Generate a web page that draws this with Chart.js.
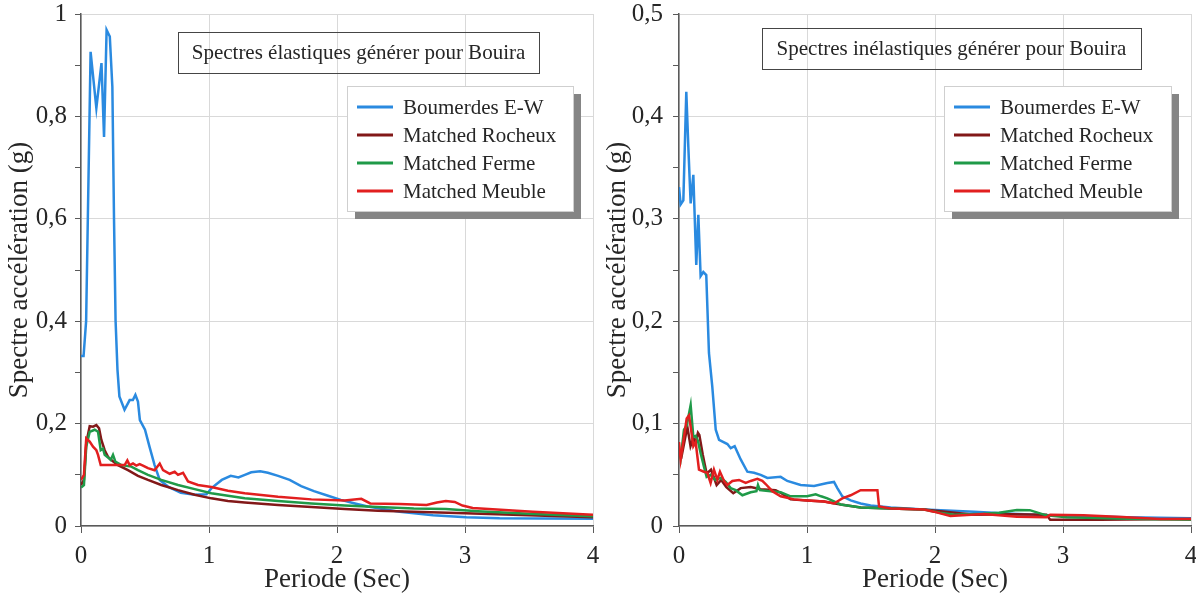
<!DOCTYPE html>
<html>
<head>
<meta charset="utf-8">
<title>Spectres Bouira</title>
<script src="https://cdn.jsdelivr.net/npm/chart.js@4.4.1/dist/chart.umd.min.js"></script>
<style>
  html, body { margin: 0; padding: 0; background: #fff; }
  #wrap { position: relative; width: 1196px; height: 603px; overflow: hidden; }
  .panel { position: absolute; top: 0; height: 603px; }
  #panelLeft { left: 0; width: 604px; }
  #panelRight { left: 598px; width: 598px; }
</style>
</head>
<body>
<div id="wrap">
  <div class="panel" id="panelLeft"><canvas id="elasCanvas" width="604" height="603"></canvas></div>
  <div class="panel" id="panelRight"><canvas id="inelasCanvas" width="598" height="603"></canvas></div>
</div>
<script>
'use strict';

// Series shared by both panels
var seriesNames = ['Boumerdes E-W', 'Matched Rocheux', 'Matched Ferme', 'Matched Meuble'];
var seriesColors = ['#2a8ae0', '#821818', '#1f9a48', '#e21f1f'];

// ---- Elastic spectra: period (s) / Sa (g) ----
var elasBoumT = [0, 0.02, 0.04, 0.075, 0.12, 0.16, 0.18, 0.20, 0.225, 0.245,
  0.258, 0.27, 0.285, 0.30, 0.34, 0.38, 0.405, 0.425, 0.445, 0.46,
  0.50, 0.535, 0.575, 0.615, 0.68, 0.78, 0.89, 0.98, 1.02, 1.10,
  1.17, 1.23, 1.28, 1.33, 1.40, 1.46, 1.54, 1.63, 1.72, 1.82,
  1.93, 2.03, 2.14, 2.24, 2.49, 2.75, 3.01, 3.27, 3.6, 4.0];
var elasBoumSa = [0.332, 0.332, 0.40, 0.926, 0.816, 0.904, 0.760, 0.969, 0.956, 0.858,
  0.598, 0.402, 0.305, 0.253, 0.227, 0.246, 0.246, 0.256, 0.243, 0.207,
  0.188, 0.155, 0.119, 0.090, 0.077, 0.065, 0.061, 0.062, 0.074, 0.090,
  0.098, 0.095, 0.100, 0.105, 0.107, 0.104, 0.098, 0.090, 0.078, 0.068,
  0.059, 0.051, 0.044, 0.038, 0.028, 0.021, 0.017, 0.015, 0.0145, 0.014];

var elasRochT = [0, 0.023, 0.041, 0.068, 0.094, 0.12, 0.141, 0.159, 0.185, 0.211,
  0.237, 0.289, 0.367, 0.445, 0.523, 0.627, 0.758, 0.888, 1.018, 1.148,
  1.279, 1.539, 1.80, 2.06, 2.32, 2.6, 3.0, 3.5, 4.0];
var elasRochSa = [0.080, 0.090, 0.162, 0.195, 0.194, 0.197, 0.191, 0.168, 0.148, 0.135,
  0.129, 0.119, 0.109, 0.098, 0.090, 0.080, 0.070, 0.061, 0.054, 0.049,
  0.046, 0.041, 0.037, 0.033, 0.030, 0.028, 0.025, 0.021, 0.017];

var elasFermT = [0, 0.023, 0.041, 0.068, 0.107, 0.133, 0.154, 0.172, 0.185, 0.211,
  0.232, 0.25, 0.268, 0.315, 0.393, 0.445, 0.523, 0.627, 0.758, 0.888,
  1.018, 1.148, 1.279, 1.539, 1.80, 2.06, 2.32, 2.6, 2.85, 3.1,
  3.5, 4.0];
var elasFermSa = [0.075, 0.080, 0.155, 0.184, 0.188, 0.184, 0.148, 0.151, 0.139, 0.134,
  0.129, 0.139, 0.126, 0.119, 0.116, 0.109, 0.100, 0.090, 0.080, 0.072,
  0.064, 0.059, 0.054, 0.049, 0.044, 0.040, 0.037, 0.034, 0.033, 0.029,
  0.024, 0.019];

var elasMeubT = [0, 0.023, 0.041, 0.068, 0.094, 0.12, 0.133, 0.154, 0.185, 0.263,
  0.341, 0.362, 0.38, 0.406, 0.432, 0.458, 0.484, 0.523, 0.575, 0.615,
  0.641, 0.693, 0.732, 0.758, 0.797, 0.836, 0.914, 1.018, 1.148, 1.279,
  1.539, 1.80, 2.06, 2.19, 2.26, 2.49, 2.70, 2.78, 2.85, 2.92,
  2.98, 3.06, 3.53, 4.0];
var elasMeubSa = [0.090, 0.100, 0.171, 0.165, 0.155, 0.148, 0.139, 0.119, 0.119, 0.119,
  0.119, 0.128, 0.119, 0.122, 0.118, 0.121, 0.118, 0.113, 0.109, 0.122,
  0.109, 0.102, 0.106, 0.100, 0.104, 0.087, 0.080, 0.076, 0.069, 0.064,
  0.057, 0.052, 0.050, 0.053, 0.044, 0.043, 0.041, 0.046, 0.049, 0.047,
  0.040, 0.035, 0.028, 0.022];

// ---- Inelastic spectra: period (s) / Sa (g) ----
var inelBoumT = [0, 0.013, 0.034, 0.057, 0.073, 0.091, 0.112, 0.12, 0.135, 0.151,
  0.169, 0.19, 0.213, 0.234, 0.26, 0.287, 0.313, 0.378, 0.404, 0.435,
  0.482, 0.534, 0.586, 0.638, 0.69, 0.794, 0.846, 0.95, 1.055, 1.159,
  1.211, 1.237, 1.276, 1.341, 1.419, 1.497, 1.654, 1.914, 2.305, 2.6,
  3.0, 3.5, 4.0];
var inelBoumSa = [0.331, 0.314, 0.318, 0.424, 0.370, 0.315, 0.343, 0.312, 0.255, 0.304,
  0.244, 0.248, 0.245, 0.169, 0.136, 0.094, 0.084, 0.080, 0.076, 0.078,
  0.065, 0.053, 0.052, 0.050, 0.047, 0.048, 0.044, 0.040, 0.039, 0.042,
  0.043, 0.037, 0.029, 0.025, 0.022, 0.020, 0.018, 0.016, 0.014, 0.012,
  0.010, 0.0085, 0.0075];

var inelRochT = [0, 0.02, 0.065, 0.09, 0.112, 0.13, 0.148, 0.159, 0.185, 0.216,
  0.25, 0.294, 0.33, 0.37, 0.424, 0.482, 0.56, 0.64, 0.755, 0.80,
  0.872, 1.0, 1.133, 1.263, 1.419, 1.654, 1.914, 2.305, 2.6, 2.87,
  2.9, 3.29, 3.7, 4.0];
var inelRochSa = [0.071, 0.068, 0.097, 0.078, 0.086, 0.082, 0.091, 0.089, 0.070, 0.051,
  0.055, 0.040, 0.045, 0.038, 0.032, 0.037, 0.038, 0.036, 0.035, 0.032,
  0.026, 0.025, 0.024, 0.021, 0.018, 0.017, 0.016, 0.011, 0.0115, 0.011,
  0.006, 0.006, 0.0065, 0.0068];

var inelFermT = [0, 0.013, 0.039, 0.06, 0.091, 0.112, 0.13, 0.148, 0.169, 0.195,
  0.216, 0.245, 0.286, 0.326, 0.365, 0.404, 0.443, 0.495, 0.56, 0.605,
  0.617, 0.632, 0.716, 0.794, 0.872, 0.95, 1.0, 1.068, 1.11, 1.159,
  1.263, 1.419, 1.654, 1.914, 2.04, 2.15, 2.38, 2.5, 2.64, 2.74,
  2.87, 3.03, 3.5, 4.0];
var inelFermSa = [0.072, 0.066, 0.094, 0.098, 0.118, 0.087, 0.088, 0.083, 0.071, 0.058,
  0.048, 0.050, 0.045, 0.047, 0.043, 0.037, 0.035, 0.030, 0.033, 0.034,
  0.040, 0.035, 0.034, 0.033, 0.029, 0.029, 0.029, 0.031, 0.029, 0.027,
  0.021, 0.018, 0.017, 0.016, 0.013, 0.011, 0.012, 0.013, 0.0156, 0.0155,
  0.0104, 0.0085, 0.007, 0.006];

var inelMeubT = [0, 0.013, 0.039, 0.06, 0.078, 0.091, 0.112, 0.13, 0.156, 0.195,
  0.221, 0.247, 0.273, 0.30, 0.32, 0.352, 0.378, 0.417, 0.469, 0.521,
  0.56, 0.612, 0.651, 0.677, 0.729, 0.794, 0.898, 1.003, 1.133, 1.211,
  1.276, 1.341, 1.419, 1.55, 1.563, 1.654, 1.914, 1.99, 2.12, 2.38,
  2.64, 2.87, 2.9, 3.16, 3.42, 3.76, 4.0];
var inelMeubSa = [0.082, 0.065, 0.087, 0.105, 0.108, 0.097, 0.078, 0.082, 0.055, 0.053,
  0.052, 0.042, 0.055, 0.045, 0.053, 0.044, 0.040, 0.044, 0.045, 0.042,
  0.044, 0.046, 0.044, 0.041, 0.034, 0.029, 0.026, 0.025, 0.024, 0.022,
  0.027, 0.030, 0.035, 0.035, 0.019, 0.017, 0.016, 0.014, 0.0098, 0.0117,
  0.009, 0.0085, 0.011, 0.0104, 0.009, 0.0068, 0.0068];

// Axis ranges
var periodMax = 4;
var elasMax = 1;
var inelMax = 0.5;

// ============================================
// STYLE
// ============================================
var TEXT = '#262626';
var AXIS = '#5a5a5a';
var GRID = '#d9d9d9';
var SERIF = '"Liberation Serif", "Times New Roman", serif';

function toPoints(periods, values) {
  return periods.map(function (t, i) { return { x: t, y: values[i] }; });
}

function commaLabel(v) {
  return String(+v.toFixed(2)).replace('.', ',');
}

// Caption frame + legend with drop shadow, drawn on top of the plot
var panelBoxes = {
  id: 'panelBoxes',
  afterDraw: function (chart, args, opts) {
    var ctx = chart.ctx;
    var t = opts.captionBox;
    var l = opts.legendBox;
    ctx.save();

    // caption: frame only, grid stays visible behind the text
    ctx.strokeStyle = '#454545';
    ctx.lineWidth = 1;
    ctx.strokeRect(t.x + 0.5, t.y + 0.5, t.w, t.h);
    ctx.fillStyle = TEXT;
    ctx.font = '21px ' + SERIF;
    ctx.textAlign = 'center';
    ctx.textBaseline = 'middle';
    ctx.fillText(opts.caption, t.x + t.w / 2, t.y + t.h / 2 + 1);

    // legend
    ctx.fillStyle = '#858585';
    ctx.fillRect(l.x + 8, l.y + 8, l.w, l.h);
    ctx.fillStyle = '#ffffff';
    ctx.fillRect(l.x, l.y, l.w, l.h);
    ctx.strokeStyle = '#cfcfcf';
    ctx.strokeRect(l.x + 0.5, l.y + 0.5, l.w, l.h);
    ctx.textAlign = 'left';
    chart.data.datasets.forEach(function (ds, i) {
      var cy = l.y + 21 + i * 28;
      ctx.strokeStyle = ds.borderColor;
      ctx.lineWidth = 3;
      ctx.beginPath();
      ctx.moveTo(l.x + 10, cy);
      ctx.lineTo(l.x + 46, cy);
      ctx.stroke();
      ctx.fillStyle = TEXT;
      ctx.fillText(ds.label, l.x + 56, cy + 1);
    });
    ctx.restore();
  }
};

function buildPanel(canvasId, cfg) {
  var datasets = cfg.series.map(function (s, i) {
    return {
      label: seriesNames[i],
      data: toPoints(s[0], s[1]),
      borderColor: seriesColors[i],
      backgroundColor: seriesColors[i],
      borderWidth: 2.5,
      pointRadius: 0,
      showLine: true,
      tension: 0,
      fill: false,
      order: seriesNames.length - i   // last series on top
    };
  });

  var minorStep = cfg.yMax / 10;

  return new Chart(document.getElementById(canvasId), {
    type: 'scatter',
    data: { datasets: datasets },
    plugins: [panelBoxes],
    options: {
      responsive: false,
      animation: false,
      events: [],
      layout: { padding: { top: 14, right: cfg.rightPad, left: 0, bottom: 0 } },
      plugins: {
        legend: { display: false },
        tooltip: { enabled: false },
        panelBoxes: {
          caption: cfg.caption,
          captionBox: cfg.captionBox,
          legendBox: cfg.legendBox
        }
      },
      scales: {
        x: {
          type: 'linear',
          min: 0,
          max: periodMax,
          // fixed axis band; end labels may hang over the plot edges
          afterFit: function (scale) {
            scale.height = 77;
            scale.paddingLeft = 0;
            scale.paddingRight = 0;
          },
          border: { color: AXIS, width: 1.5 },
          grid: { color: GRID, lineWidth: 1, tickColor: AXIS, tickLength: 7 },
          ticks: {
            stepSize: 1,
            color: TEXT,
            font: { family: SERIF, size: 25 },
            padding: 8,
            maxRotation: 0,
            callback: function (v) { return String(v); }
          },
          title: {
            display: true,
            text: 'Periode (Sec)',
            color: TEXT,
            font: { family: SERIF, size: 27 },
            padding: { top: 0, bottom: 7 }
          }
        },
        y: {
          type: 'linear',
          min: 0,
          max: cfg.yMax,
          afterFit: function (scale) {
            scale.width = 81;
            scale.paddingTop = 0;
            scale.paddingBottom = 0;
          },
          border: { color: AXIS, width: 1.5 },
          grid: {
            lineWidth: 1,
            tickLength: 6,
            tickColor: AXIS,
            // grid only on labelled values, short ticks on the halves
            color: function (c) {
              var n = Math.round(c.tick.value / minorStep);
              return n % 2 === 0 ? GRID : 'rgba(0,0,0,0)';
            }
          },
          ticks: {
            stepSize: minorStep,
            autoSkip: false,
            color: TEXT,
            font: { family: SERIF, size: 25 },
            padding: cfg.yLabelPad,
            callback: function (v) {
              var n = Math.round(v / minorStep);
              return n % 2 === 0 ? commaLabel(v) : '';
            }
          },
          title: {
            display: true,
            text: 'Spectre accélération (g)',
            color: TEXT,
            font: { family: SERIF, size: 27 },
            padding: { top: 4, bottom: 0 }
          }
        }
      }
    }
  });
}

buildPanel('elasCanvas', {
  yMax: elasMax,
  yLabelPad: 8,
  rightPad: 11,
  caption: 'Spectres élastiques générer pour Bouira',
  captionBox: { x: 178, y: 32, w: 361, h: 41 },
  legendBox: { x: 347, y: 86, w: 226, h: 125 },
  series: [
    [elasBoumT, elasBoumSa],
    [elasRochT, elasRochSa],
    [elasFermT, elasFermSa],
    [elasMeubT, elasMeubSa]
  ]
});

buildPanel('inelasCanvas', {
  yMax: inelMax,
  yLabelPad: 10,
  rightPad: 5,
  caption: 'Spectres inélastiques générer pour Bouira',
  captionBox: { x: 164, y: 28, w: 379, h: 41 },
  legendBox: { x: 346, y: 86, w: 227, h: 125 },
  series: [
    [inelBoumT, inelBoumSa],
    [inelRochT, inelRochSa],
    [inelFermT, inelFermSa],
    [inelMeubT, inelMeubSa]
  ]
});
</script>
</body>
</html>
